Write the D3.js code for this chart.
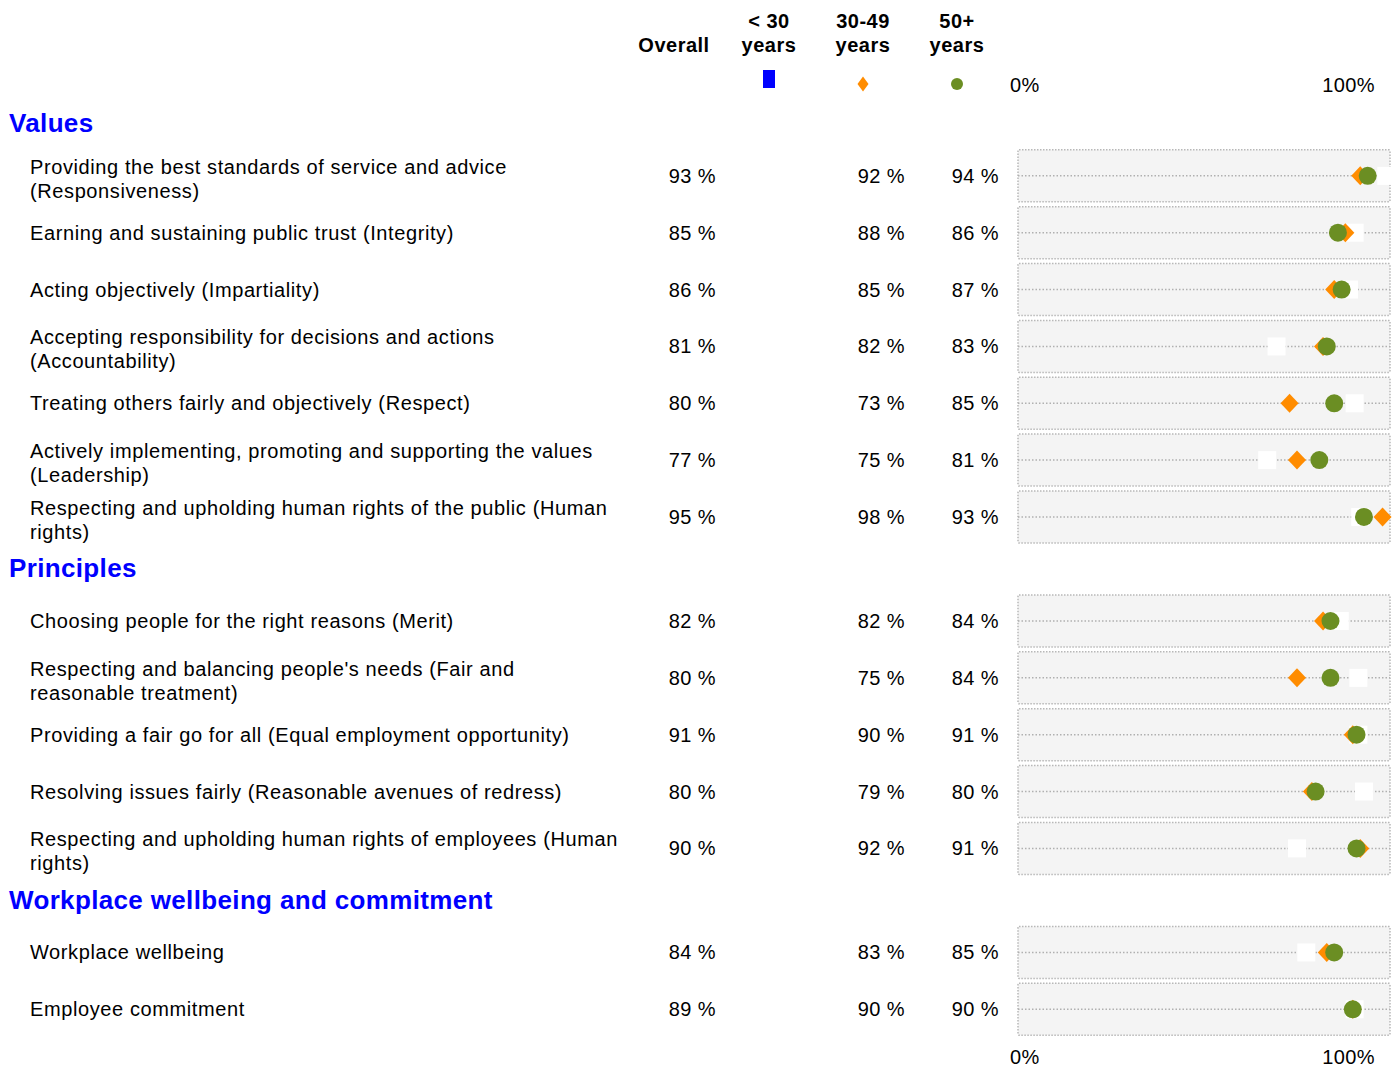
<!DOCTYPE html>
<html>
<head>
<meta charset="utf-8">
<script src="https://cdn.jsdelivr.net/npm/d3@7"></script>
<style>
  html, body { margin: 0; padding: 0; background: #fff; }
  svg { display: block; font-family: "Liberation Sans", Arial, sans-serif; }
</style>
</head>
<body>
<div id="chart"></div>
<script>
const sections = ['Values', 'Principles', 'Workplace wellbeing and commitment'];

const items = [
  ['Providing the best standards of service and advice', '(Responsiveness)'],
  ['Earning and sustaining public trust (Integrity)'],
  ['Acting objectively (Impartiality)'],
  ['Accepting responsibility for decisions and actions', '(Accountability)'],
  ['Treating others fairly and objectively (Respect)'],
  ['Actively implementing, promoting and supporting the values', '(Leadership)'],
  ['Respecting and upholding human rights of the public (Human', 'rights)'],
  ['Choosing people for the right reasons (Merit)'],
  ['Respecting and balancing people\'s needs (Fair and', 'reasonable treatment)'],
  ['Providing a fair go for all (Equal employment opportunity)'],
  ['Resolving issues fairly (Reasonable avenues of redress)'],
  ['Respecting and upholding human rights of employees (Human', 'rights)'],
  ['Workplace wellbeing'],
  ['Employee commitment']
];
const itemSection = [0, 0, 0, 0, 0, 0, 0, 1, 1, 1, 1, 1, 2, 2];

const overall = [93, 85, 86, 81, 80, 77, 95, 82, 80, 91, 80, 90, 84, 89];
const under30 = [99, 90.5, 89, 69.5, 90.5, 67, 92, 86.5, 91.5, 91.5, 93, 75, 77.5, 90.5];
const mid30to49 = [92, 88, 85, 82, 73, 75, 98, 82, 75, 90, 79, 92, 83, 90];
const over50 = [94, 86, 87, 83, 85, 81, 93, 84, 84, 91, 80, 91, 85, 90];

const columnHeads = [['Overall'], ['< 30', 'years'], ['30-49', 'years'], ['50+', 'years']];
const axisTicks = ['0%', '100%'];

const width = 1397, height = 1067;
const svg = d3.select('#chart').append('svg').attr('width', width).attr('height', height);

// vertical slots: header, rows... with slightly tighter spacing around headers
const slots = [];
let s = 0;
sections.forEach((name, si) => {
  if (si > 0) s += 0.9;
  slots.push({ type: 'head', name, slot: s });
  items.forEach((lab, i) => {
    if (itemSection[i] !== si) return;
    s += (slots[slots.length - 1].type === 'head') ? 0.93 : 1;
    slots.push({ type: 'row', i, slot: s });
  });
});
const y = d3.scaleLinear().domain([0, 1]).range([123, 123 + 56.85]);
const x = d3.scaleLinear().domain([0, 100]).range([1018, 1390]);
const colX = [674, 769, 863, 957];
const valX = [716, 811, 905, 999];

// column headers
columnHeads.forEach((lines, c) => {
  const t = svg.append('text').attr('text-anchor', 'middle').attr('font-weight', 'bold')
    .attr('font-size', 20).attr('letter-spacing', 0.5).attr('fill', '#000');
  const base = lines.length === 1 ? 52 : 28;
  lines.forEach((ln, k) => t.append('tspan').attr('x', colX[c]).attr('y', base + k * 24).text(ln));
});

// legend
svg.append('rect').attr('x', colX[1] - 6).attr('y', 70).attr('width', 12).attr('height', 18).attr('fill', '#0000ff');
svg.append('path').attr('transform', `translate(${colX[2]},84)`)
  .attr('d', 'M0,-7.5L5.5,0L0,7.5L-5.5,0Z').attr('fill', '#ff8c00');
svg.append('circle').attr('cx', colX[3]).attr('cy', 84).attr('r', 6).attr('fill', '#6b8e23');

function axisLabels(yy) {
  svg.append('text').attr('x', x(0) - 8).attr('y', yy).attr('font-size', 20).attr('letter-spacing', 0.4)
    .attr('fill', '#000').text(axisTicks[0]);
  svg.append('text').attr('x', x(100) - 15).attr('y', yy).attr('text-anchor', 'end').attr('font-size', 20)
    .attr('letter-spacing', 0.4).attr('fill', '#000').text(axisTicks[1]);
}
axisLabels(92);
axisLabels(1064);

// section headers
svg.selectAll('text.section').data(slots.filter(d => d.type === 'head')).join('text')
  .attr('class', 'section').attr('x', 9).attr('y', d => y(d.slot) + 9)
  .attr('font-size', 26).attr('font-weight', 'bold').attr('letter-spacing', 0.35)
  .attr('fill', '#0000ff').text(d => d.name);

const rows = slots.filter(d => d.type === 'row');
const g = svg.selectAll('g.row').data(rows).join('g').attr('class', 'row')
  .attr('transform', d => `translate(0,${y(d.slot)})`);

// labels
g.each(function (d) {
  const lines = items[d.i];
  const t = d3.select(this).append('text').attr('font-size', 20).attr('letter-spacing', 0.6).attr('fill', '#000');
  const base = lines.length === 1 ? 7 : -2;
  lines.forEach((ln, k) => t.append('tspan').attr('x', 30).attr('y', base + k * 24).text(ln));
});

// values
const cols = [overall, null, mid30to49, over50];
cols.forEach((arr, c) => {
  if (!arr) return;
  g.append('text').attr('x', valX[c]).attr('y', 7).attr('text-anchor', 'end')
    .attr('font-size', 20).attr('letter-spacing', 0.4).attr('fill', '#000').text(d => `${arr[d.i]} %`);
});

// panels
g.append('rect').attr('x', x(0)).attr('y', -26).attr('width', x(100) - x(0)).attr('height', 52)
  .attr('fill', '#f4f4f4').attr('stroke', '#b8b8b8').attr('stroke-width', 1.5)
  .attr('stroke-dasharray', '1.5,1.5').attr('rx', 1);
g.append('line').attr('x1', x(0)).attr('x2', x(100)).attr('y1', 0).attr('y2', 0)
  .attr('stroke', '#b0b0b0').attr('stroke-width', 1.5).attr('stroke-dasharray', '1.5,2');

// markers
g.append('rect').attr('x', d => x(under30[d.i]) - 9).attr('y', -9).attr('width', 18).attr('height', 18)
  .attr('fill', '#ffffff');
g.append('path').attr('transform', d => `translate(${x(mid30to49[d.i])},0)`)
  .attr('d', 'M0,-9.5L9,0L0,9.5L-9,0Z').attr('fill', '#ff8c00');
g.append('circle').attr('cx', d => x(over50[d.i])).attr('cy', 0).attr('r', 9).attr('fill', '#6b8e23');
</script>
</body>
</html>
